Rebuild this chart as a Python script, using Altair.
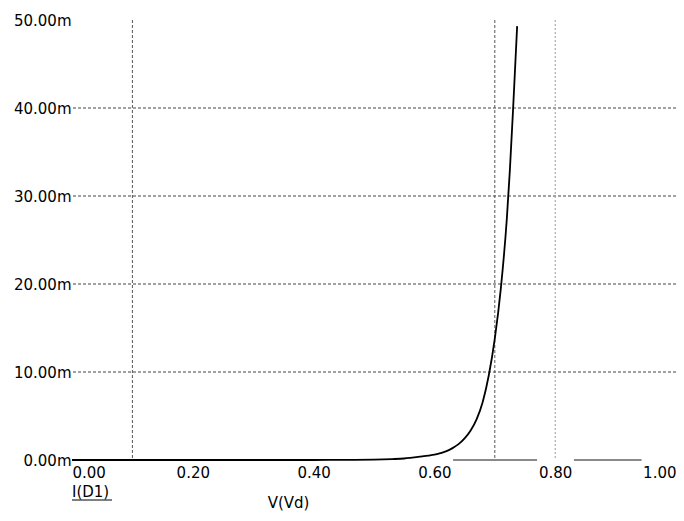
import altair as alt
import pandas as pd

# Diode I-V curve (V in volts, I in mA)
volts = [0.0, 0.1, 0.2, 0.3, 0.4, 0.45, 0.5, 0.53, 0.55, 0.56, 0.57, 0.58, 0.59,
         0.60, 0.61, 0.62, 0.63, 0.64, 0.65, 0.66, 0.67, 0.68, 0.69, 0.70, 0.71,
         0.72, 0.725, 0.73, 0.735, 0.737]
current_ma = [0.0, 0.0, 0.0, 0.0, 0.002, 0.01, 0.04, 0.1, 0.17, 0.24, 0.32, 0.41, 0.5,
              0.6, 0.78, 1.0, 1.35, 1.8, 2.45, 3.35, 4.65, 6.6, 9.6, 13.8, 19.5,
              27.5, 33.0, 39.5, 46.5, 49.3]

x_ticks = [0.0, 0.2, 0.4, 0.6, 0.8, 1.0]
y_ticks = [0, 10, 20, 30, 40, 50]
h_grid = [10, 20, 30, 40]
v_grid_dark = [0.1, 0.7]
v_grid_light = [0.8]
axis_seg_start = [0.631, 0.831]
axis_seg_end = [0.770, 0.943]

W, H = 604, 440
FONT = "DejaVu Sans"

curve_df = pd.DataFrame({"V": volts, "I": current_ma})
hgrid_df = pd.DataFrame({"I": h_grid})
vdark_df = pd.DataFrame({"V": v_grid_dark})
vlight_df = pd.DataFrame({"V": v_grid_light})
seg_df = pd.DataFrame({"V": axis_seg_start, "V2": axis_seg_end})

xscale = alt.Scale(domain=[0, 1], nice=False, zero=False)
yscale = alt.Scale(domain=[0, 50], nice=False)

xaxis = alt.Axis(values=x_ticks, format=".2f", labelFlush=True, domain=False,
                 ticks=False, grid=False, labelPadding=5, labelFont=FONT,
                 labelFontSize=15, labelColor="#000", title="V(Vd)",
                 titleFont=FONT, titleFontSize=15, titleFontWeight="normal",
                 titleColor="#000", titleX=216, titleY=35, titleBaseline="top",
                 titleAnchor="middle", titleAlign="center")
yaxis = alt.Axis(values=y_ticks, labelExpr="format(datum.value, '.2f') + 'm'",
                 domain=False, ticks=False, grid=False, labelPadding=1,
                 labelFont=FONT, labelFontSize=15, labelColor="#000", title=None)

base_x = alt.X("V:Q", scale=xscale, axis=xaxis)
base_y = alt.Y("I:Q", scale=yscale, axis=yaxis)

hgrid = alt.Chart(hgrid_df).mark_rule(color="#444", strokeWidth=1, strokeDash=[3, 2]).encode(
    y=alt.Y("I:Q", scale=yscale, axis=yaxis))
vdark = alt.Chart(vdark_df).mark_rule(color="#555", strokeWidth=1, strokeDash=[3, 2]).encode(
    x=alt.X("V:Q", scale=xscale, axis=xaxis))
vlight = alt.Chart(vlight_df).mark_rule(color="#999", strokeWidth=1, strokeDash=[2, 2]).encode(
    x=alt.X("V:Q", scale=xscale, axis=xaxis))
segs = alt.Chart(seg_df).mark_rule(color="#8a8a8a", strokeWidth=2).encode(
    x=alt.X("V:Q", scale=xscale, axis=xaxis), x2="V2:Q", y=alt.datum(0))
curve = alt.Chart(curve_df).mark_line(color="#000", strokeWidth=1.8, interpolate="monotone").encode(
    x=base_x, y=base_y)

legend_df = pd.DataFrame({"label": ["I(D1)"]})
ilabel = alt.Chart(legend_df).mark_text(font=FONT, fontSize=15, align="left",
                                        baseline="top", color="#000").encode(
    text="label:N", x=alt.value(0), y=alt.value(H + 25))
underline = alt.Chart(legend_df).mark_rule(color="#000", strokeWidth=1).encode(
    x=alt.value(0), x2=alt.value(40), y=alt.value(H + 40))

chart = alt.layer(hgrid, vdark, vlight, segs, curve, ilabel, underline).properties(
    width=W, height=H,
    background="white",
    autosize=alt.AutoSizeParams(type="none"),
    padding={"left": 64, "top": 12, "right": 0, "bottom": 53},
).configure_view(stroke=None)

chart.save("out.html", embed_options={"renderer": "svg", "actions": False})
